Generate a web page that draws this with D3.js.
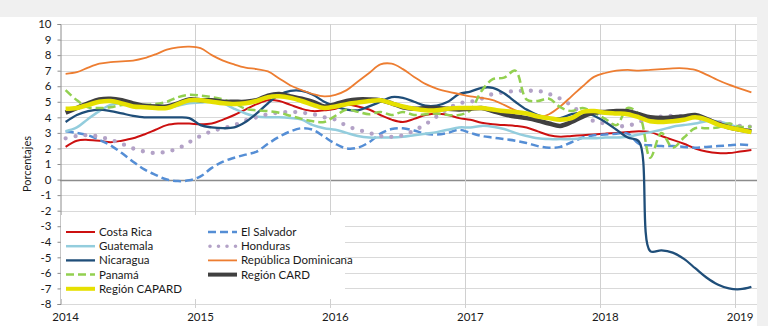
<!DOCTYPE html>
<html lang="es">
<head>
<meta charset="UTF-8">
<title>Inflación interanual, países CAPARD</title>
<script src="https://d3js.org/d3.v7.min.js"></script>
<style>
    body { margin: 0; background: #f0f0f0; }
    svg text { font-family: Lato, "Open Sans", sans-serif; fill: #1a1a1a; }
</style>
</head>
<body>
<div id="chart"></div>
<script>
    // x categories: monthly, Jan 2014 .. Feb 2019
    const years = [2014, 2015, 2016, 2017, 2018, 2019];
    const months = [];
    years.forEach(y => {
        for (let m = 1; m <= 12; m++) {
            if (y === 2019 && m > 2) break;
            months.push(y + "-" + String(m).padStart(2, "0"));
        }
    });
    const yTicks = d3.range(-8, 11);

    // series, one value per month
    const costaRica = [2.1, 2.5, 2.55, 2.5, 2.4, 2.5, 2.65, 2.9, 3.2, 3.5, 3.6, 3.6,
        3.55, 3.6, 3.85, 4.15, 4.5, 4.85, 5.1, 5.05, 4.8, 4.55, 4.4, 4.45,
        4.55, 4.8, 4.7, 4.5, 4.15, 3.85, 3.7, 3.9, 4.15, 4.25, 4.15, 3.95,
        3.85, 3.65, 3.55, 3.5, 3.45, 3.35, 3.1, 2.85, 2.75, 2.8, 2.85, 2.9,
        2.95, 3.0, 3.05, 3.1, 3.05, 2.8, 2.55, 2.3, 2.0, 1.8, 1.7, 1.7,
        1.8, 1.9];
    const elSalvador = [3.1, 3.0, 2.85, 2.55, 2.2, 1.7, 1.15, 0.65, 0.3, 0.0, -0.1, -0.05,
        0.2, 0.75, 1.15, 1.4, 1.6, 1.8, 2.3, 2.75, 3.1, 3.3, 3.2, 2.75,
        2.3, 2.0, 2.05, 2.4, 2.95, 3.25, 3.3, 3.15, 2.95, 2.9, 3.0, 3.2,
        3.0, 2.8, 2.7, 2.6, 2.5, 2.35, 2.15, 2.05, 2.1, 2.4, 2.7, 2.85,
        2.9, 2.95, 2.95, 2.3, 2.2, 2.15, 2.15, 2.1, 2.05, 2.1, 2.15, 2.2,
        2.25, 2.2];
    const guatemala = [3.1, 3.35, 3.9, 4.4, 4.8, 4.9, 4.7, 4.65, 4.6, 4.6, 4.75, 4.9,
        4.95, 5.0, 4.9, 4.55, 4.25, 4.05, 4.0, 4.0, 3.95, 3.85, 3.5, 3.3,
        3.2, 3.0, 2.8, 2.7, 2.7, 2.7, 2.75, 2.85, 2.95, 3.05, 3.2, 3.35,
        3.35, 3.45, 3.4, 3.25, 3.0, 2.8, 2.65, 2.6, 2.6, 2.6, 2.65, 2.65,
        2.7, 2.7, 2.75, 2.9, 3.05, 3.2, 3.4, 3.5, 3.6, 3.75, 3.75, 3.55,
        3.3, 3.1];
    const honduras = [2.65, 2.8, 2.85, 2.75, 2.55, 2.3, 2.0, 1.8, 1.7, 1.8, 2.0, 2.4,
        2.8, 3.1, 3.3, 3.5, 3.8, 4.0, 4.2, 4.3, 4.35, 4.3, 4.2, 4.0,
        3.85, 3.45, 3.2, 3.0, 2.8, 2.75, 2.85, 3.15, 3.55, 4.05, 4.55, 4.9,
        5.0, 5.2, 5.5, 5.6, 5.7, 5.7, 5.7, 5.5, 5.2, 4.75, 4.2, 3.75,
        3.6, 3.45, 3.45, 3.7, 3.95, 4.05, 4.1, 4.05, 3.95, 3.85, 3.7, 3.55,
        3.45, 3.4];
    const nicaragua = [3.7, 4.15, 4.4, 4.5, 4.4, 4.25, 4.1, 4.0, 4.0, 4.0, 4.0, 3.95,
        3.5, 3.35, 3.3, 3.35, 3.7, 4.25, 4.9, 5.45, 5.7, 5.7, 5.45, 5.0,
        4.7, 4.5, 4.45, 4.7, 5.0, 5.3, 5.25, 5.0, 4.75, 4.75, 5.0, 5.5,
        5.65, 5.9, 5.9, 5.55, 5.0, 4.5, 4.15, 3.95, 3.95, 4.2, 4.3, 4.1,
        3.7, 3.2, 2.7, 2.45, -4.6, -4.55, -4.7, -5.1, -5.7, -6.3, -6.75, -7.0,
        -7.05, -6.9];
    const repDominicana = [6.8, 6.9, 7.2, 7.45, 7.55, 7.6, 7.65, 7.8, 8.05, 8.35, 8.5, 8.55,
        8.45, 8.0, 7.65, 7.4, 7.2, 7.1, 6.95, 6.5, 6.05, 5.75, 5.5, 5.35,
        5.45, 5.75, 6.3, 6.85, 7.4, 7.45, 7.1, 6.6, 6.15, 5.85, 5.65, 5.5,
        5.35, 5.25, 5.1, 4.8, 4.45, 4.2, 4.0, 4.2, 4.7, 5.35, 6.0, 6.6,
        6.85, 7.0, 7.05, 7.0, 7.05, 7.1, 7.15, 7.15, 7.05, 6.75, 6.4, 6.1,
        5.85, 5.6];
    const panama = [5.75, 5.1, 4.65, 4.6, 4.65, 4.8, 4.8, 4.8, 4.85, 5.0, 5.3, 5.45,
        5.4, 5.3, 5.15, 4.9, 4.55, 4.45, 4.4, 4.3, 4.1, 3.9, 3.75, 3.7,
        4.1, 4.5, 4.35, 4.2, 4.35, 4.15, 4.35, 4.15, 4.2, 4.25, 4.15, 4.15,
        4.45, 5.7, 6.45, 6.55, 7.0, 5.15, 5.05, 5.2, 4.65, 4.4, 4.6, 4.3,
        3.9, 3.5, 4.6, 4.2, 1.4, 3.0, 2.05, 2.7, 3.3, 3.3, 3.35, 3.6,
        3.4, 3.4];
    const regionCard = [4.3, 4.6, 4.9, 5.15, 5.2, 5.1, 4.9, 4.75, 4.7, 4.7, 4.9, 5.15,
        5.1, 5.1, 5.0, 5.0, 5.0, 5.1, 5.4, 5.5, 5.35, 5.2, 5.0, 4.7,
        4.85, 5.05, 5.15, 5.15, 5.1, 4.9, 4.65, 4.55, 4.6, 4.6, 4.55, 4.5,
        4.55, 4.6, 4.4, 4.2, 4.05, 3.95, 3.8, 3.6, 3.45, 3.7, 4.05, 4.3,
        4.35, 4.4, 4.4, 4.2, 4.0, 3.95, 4.0, 4.05, 4.15, 3.9, 3.6, 3.35,
        3.2, 3.1];
    const regionCapard = [4.55, 4.6, 4.8, 5.0, 5.05, 4.9, 4.7, 4.65, 4.6, 4.6, 4.85, 5.1,
        5.1, 5.0, 4.9, 4.85, 4.9, 5.05, 5.3, 5.35, 5.25, 5.05, 4.8, 4.6,
        4.7, 4.85, 4.95, 5.05, 5.1, 4.9, 4.7, 4.55, 4.45, 4.45, 4.55, 4.6,
        4.6, 4.6, 4.5, 4.4, 4.35, 4.25, 4.05, 3.95, 3.85, 3.95, 4.35, 4.4,
        4.3, 4.25, 4.2, 4.0, 3.75, 3.7, 3.75, 3.85, 4.0, 3.85, 3.55, 3.35,
        3.2, 3.05];

    // drawing order = legend order (row by row, two columns)
    const series = [
        {name: "Costa Rica", values: costaRica, color: "#cc1010", width: 2, dash: null},
        {name: "El Salvador", values: elSalvador, color: "#558ed5", width: 2.5, dash: "8 4"},
        {name: "Guatemala", values: guatemala, color: "#93cddd", width: 2.5, dash: null},
        {name: "Honduras", values: honduras, color: "#b3a2c7", width: 4.3, dash: "0 10", round: true},
        {name: "Nicaragua", values: nicaragua, color: "#1f4e79", width: 2.3, dash: null},
        {name: "República Dominicana", values: repDominicana, color: "#ed7d31", width: 1.8, dash: null},
        {name: "Panamá", values: panama, color: "#92d050", width: 2.5, dash: "8 4"},
        {name: "Región CARD", values: regionCard, color: "#404040", width: 4.5, dash: null},
        {name: "Región CAPARD", values: regionCapard, color: "#e6e000", width: 4.5, dash: null}
    ];

    const width = 768, height = 326;
    const plot = {left: 60, right: 757, top: 24, bottom: 304};

    const svg = d3.select("#chart").append("svg")
        .attr("width", width)
        .attr("height", height);

    // white chart area, grey strip on top and right
    svg.append("rect").attr("x", 0).attr("y", 0).attr("width", width).attr("height", height).attr("fill", "#f0f0f0");
    svg.append("rect").attr("x", 0).attr("y", 17).attr("width", 757).attr("height", height - 17).attr("fill", "#ffffff");

    const x = d3.scaleBand().domain(d3.range(months.length)).range([plot.left, plot.right]).padding(0);
    const xc = i => x(i) + x.bandwidth() / 2;
    const y = d3.scaleLinear().domain([-8, 10]).range([plot.bottom, plot.top]);

    // horizontal grid
    svg.append("g").selectAll("line")
        .data(yTicks)
        .join("line")
        .attr("x1", plot.left).attr("x2", plot.right)
        .attr("y1", d => Math.round(y(d)) + 0.5).attr("y2", d => Math.round(y(d)) + 0.5)
        .attr("stroke", d => d === 0 ? "#8c8c8c" : "#d9d9d9")
        .attr("stroke-width", d => d === 0 ? 1.6 : 1);

    // year separators
    const yearStarts = months.map((m, i) => i).filter(i => i > 0 && i % 12 === 0);
    svg.append("g").selectAll("line")
        .data(yearStarts)
        .join("line")
        .attr("x1", d => Math.round(x(d)) + 0.5).attr("x2", d => Math.round(x(d)) + 0.5)
        .attr("y1", plot.top).attr("y2", plot.bottom + 4)
        .attr("stroke", "#d0d0d0");

    // y axis
    const yAxis = svg.append("g")
        .attr("transform", `translate(${plot.left + 0.5},0)`)
        .call(d3.axisLeft(y).tickValues(yTicks).tickSize(3).tickPadding(6).tickFormat(d => d < 0 ? "-" + Math.abs(d) : d));
    yAxis.select(".domain").attr("stroke", "#8c8c8c");
    yAxis.selectAll(".tick line").attr("stroke", "#8c8c8c");
    yAxis.selectAll("text").style("font-size", "11.5px").style("font-family", "Lato, sans-serif").attr("fill", "#1a1a1a");

    svg.append("text")
        .attr("transform", `translate(31,${(plot.top + plot.bottom) / 2}) rotate(-90)`)
        .attr("text-anchor", "middle")
        .style("font-size", "11px")
        .text("Porcentajes");

    // year labels under January of each year
    svg.append("g").selectAll("text")
        .data(years)
        .join("text")
        .attr("x", d => xc(months.indexOf(d + "-01")))
        .attr("y", 321)
        .attr("text-anchor", "middle")
        .style("font-size", "11.5px")
        .text(d => d);

    // lines
    const line = d3.line()
        .x((d, i) => xc(i))
        .y(d => y(d))
        .curve(d3.curveCatmullRom.alpha(0.5));

    svg.append("g").selectAll("path")
        .data(series)
        .join("path")
        .attr("d", d => line(d.values))
        .attr("fill", "none")
        .attr("stroke", d => d.color)
        .attr("stroke-width", d => d.width)
        .attr("stroke-dasharray", d => d.dash)
        .attr("stroke-linecap", d => d.round ? "round" : "butt")
        .attr("stroke-linejoin", "round");

    // legend
    const legend = svg.append("g");
    legend.append("rect")
        .attr("x", plot.left + 1).attr("y", 215)
        .attr("width", 284).attr("height", 84)
        .attr("fill", "#ffffff");

    const cols = [{lineX: 66, textX: 99}, {lineX: 208, textX: 241}];
    series.forEach((s, i) => {
        const col = cols[i % 2];
        const rowY = 232 + Math.floor(i / 2) * 14.2;
        legend.append("line")
            .attr("x1", col.lineX + (s.round ? 2 : 0)).attr("x2", col.lineX + 29)
            .attr("y1", rowY).attr("y2", rowY)
            .attr("stroke", s.color)
            .attr("stroke-width", s.round ? 3.6 : Math.min(s.width, 4))
            .attr("stroke-dasharray", s.round ? "0 8.5" : s.dash)
            .attr("stroke-linecap", s.round ? "round" : "butt");
        legend.append("text")
            .attr("x", col.textX).attr("y", rowY + 4)
            .style("font-size", "11.5px")
            .text(s.name);
    });
</script>
</body>
</html>
